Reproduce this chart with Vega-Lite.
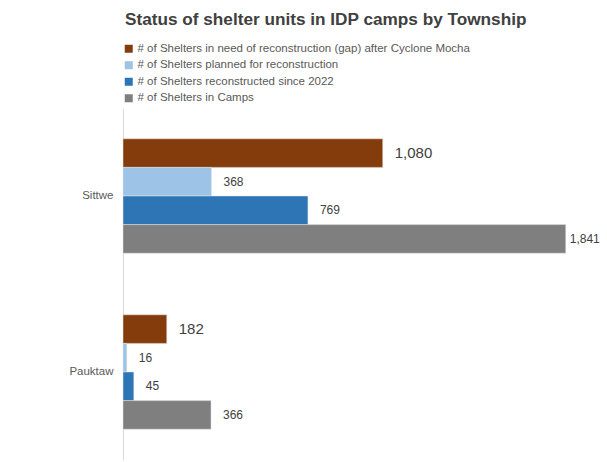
{
  "$schema": "https://vega.github.io/schema/vega-lite/v6.json",
  "autosize": {"type": "none"},
  "padding": {"left": 123, "top": 108, "right": 3, "bottom": 2},
  "width": 481,
  "height": 352,
  "background": "white",
  "title": {
    "text": "Status of shelter units in IDP camps by Township",
    "anchor": "start",
    "frame": "group",
    "orient": "top",
    "offset": 15,
    "dx": 2,
    "font": "Liberation Sans",
    "fontSize": 17.2,
    "fontWeight": "bold",
    "color": "#404040"
  },
  "data": {
    "values": [
      {"township": "Sittwe", "series": "# of Shelters in need of reconstruction (gap) after Cyclone Mocha", "value": 1080},
      {"township": "Sittwe", "series": "# of Shelters planned for reconstruction", "value": 368},
      {"township": "Sittwe", "series": "# of Shelters reconstructed since 2022", "value": 769},
      {"township": "Sittwe", "series": "# of Shelters in Camps", "value": 1841},
      {"township": "Pauktaw", "series": "# of Shelters in need of reconstruction (gap) after Cyclone Mocha", "value": 182},
      {"township": "Pauktaw", "series": "# of Shelters planned for reconstruction", "value": 16},
      {"township": "Pauktaw", "series": "# of Shelters reconstructed since 2022", "value": 45},
      {"township": "Pauktaw", "series": "# of Shelters in Camps", "value": 366}
    ]
  },
  "encoding": {
    "y": {
      "field": "township",
      "type": "nominal",
      "sort": ["Sittwe", "Pauktaw"],
      "scale": {"paddingInner": 0.35, "paddingOuter": 0.175},
      "axis": {
        "title": null,
        "ticks": false,
        "domainColor": "#d9d9d9",
        "labelFont": "Liberation Sans",
        "labelFontSize": 11.5,
        "labelColor": "#595959",
        "labelPadding": 10
      }
    },
    "yOffset": {
      "field": "series",
      "type": "nominal",
      "sort": [
        "# of Shelters in need of reconstruction (gap) after Cyclone Mocha",
        "# of Shelters planned for reconstruction",
        "# of Shelters reconstructed since 2022",
        "# of Shelters in Camps"
      ],
      "scale": {"paddingInner": 0, "paddingOuter": 0}
    },
    "x": {
      "field": "value",
      "type": "quantitative",
      "scale": {"domain": [0, 2000]},
      "axis": null
    }
  },
  "layer": [
    {
      "mark": {"type": "bar", "stroke": "#e6e6e6", "strokeWidth": 0.5},
      "encoding": {
        "color": {
          "field": "series",
          "type": "nominal",
          "scale": {
            "domain": [
              "# of Shelters in need of reconstruction (gap) after Cyclone Mocha",
              "# of Shelters planned for reconstruction",
              "# of Shelters reconstructed since 2022",
              "# of Shelters in Camps"
            ],
            "range": ["#843C0C", "#9DC3E6", "#2E75B6", "#7F7F7F"]
          },
          "legend": {
            "title": null,
            "orient": "none",
            "legendX": 0,
            "legendY": -65,
            "direction": "vertical",
            "symbolType": "square",
            "symbolSize": 64,
            "symbolStrokeWidth": 0,
            "labelFont": "Liberation Sans",
            "labelFontSize": 11.5,
            "labelColor": "#595959",
            "labelOffset": 3,
            "rowPadding": 3.5,
            "labelLimit": 500
          }
        }
      }
    },
    {
      "mark": {"type": "text", "align": "left", "baseline": "middle", "font": "Liberation Sans", "color": "#404040",
        "dx": {"expr": "datum.value > 1800 ? 4 : 12"}},
      "encoding": {
        "text": {"field": "value", "type": "quantitative", "format": ","},
        "size": {
          "condition": {"test": "datum.series == '# of Shelters in need of reconstruction (gap) after Cyclone Mocha'", "value": 15},
          "value": 12
        }
      }
    }
  ],
  "config": {
    "view": {"stroke": null},
    "axis": {"grid": false}
  }
}
